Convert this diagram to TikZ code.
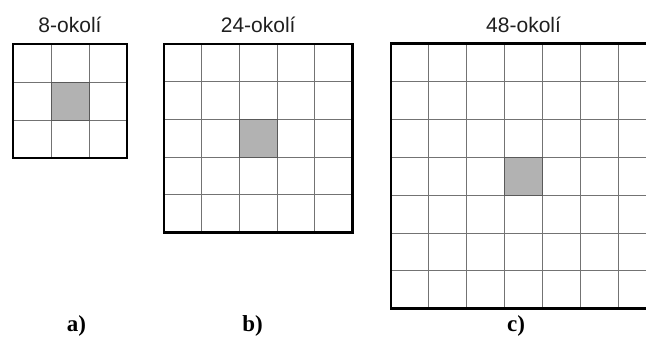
\documentclass[tikz,border=0pt]{standalone}
\usepackage{fontspec}
\setmainfont{Liberation Serif}
\newfontfamily\headsans{Liberation Sans}

\tikzset{
  cellline/.style={draw=black!55, line width=0.9pt},
  frame/.style={draw=black, line width=2.8pt, line join=miter},
  centrecell/.style={fill=black!30, draw=black!65, line width=1pt},
  title/.style={font=\headsans\fontsize{21}{24}\selectfont, text=black!88, anchor=base, inner sep=0pt},
  tag/.style={font=\bfseries\fontsize{23}{26}\selectfont, anchor=base, inner sep=0pt}
}

% \neighgrid{x0}{y0}{cells per side}{cell size}
\newcommand\neighgrid[4]{%
  \pgfmathsetmacro\gx{#1}\pgfmathsetmacro\gy{#2}%
  \pgfmathsetmacro\gs{#4}\pgfmathsetmacro\gw{#3*#4}%
  \pgfmathtruncatemacro\gm{(#3-1)/2}%
  \pgfmathtruncatemacro\gl{#3-1}%
  \fill[centrecell] (\gx+\gm*\gs,\gy+\gm*\gs) rectangle ++(\gs,\gs);
  \foreach \i in {1,...,\gl}{
    \draw[cellline] (\gx+\i*\gs,\gy) -- ++(0,\gw);
    \draw[cellline] (\gx,\gy+\i*\gs) -- ++(\gw,0);
  }
  \draw[centrecell,fill=none] (\gx+\gm*\gs,\gy+\gm*\gs) rectangle ++(\gs,\gs);
  \draw[frame] (\gx,\gy) rectangle ++(\gw,\gw);
}

\begin{document}
\begin{tikzpicture}[x=1pt,y=-1pt]
  \useasboundingbox (0,0) rectangle (646,338);
  \begin{scope}
    \clip (0,0) rectangle (646,338);
    \neighgrid{13}{44}{3}{38}
    \neighgrid{164}{44}{5}{37.7}
    \neighgrid{391}{43.5}{7}{37.9}
  \end{scope}

  \node[title] (t8)  at (70,32.5)    {8-okolí};
  \node[title] (t24) at (258.2,32.5) {24-okolí};
  \node[title] (t48) at (523.6,32.5) {48-okolí};

  \node[tag] (la) at (76.5,331) {a)};
  \node[tag] (lb) at (252.5,331) {b)};
  \node[tag] (lc) at (516,331) {c)};
\end{tikzpicture}
\end{document}
